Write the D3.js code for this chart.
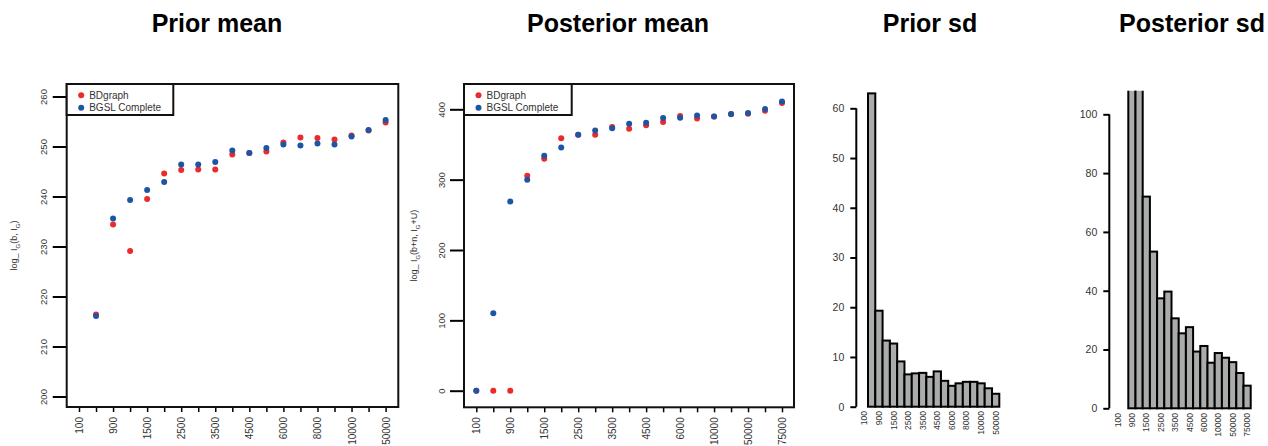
<!DOCTYPE html>
<html>
<head>
<meta charset="utf-8">
<script src="https://cdn.jsdelivr.net/npm/d3@7"></script>
<style>
  body { margin: 0; background: #fff; }
  svg { font-family: "Liberation Sans", Arial, sans-serif; }
</style>
</head>
<body>
<div id="chart"></div>
<script>
// tick labels - the original only labels every other tick
const priorLabels = ["100", "", "900", "", "1500", "", "2500", "", "3500", "", "4500", "", "6000", "", "8000", "", "10000", "", "50000"];
const postLabels = ["100", "", "900", "", "1500", "", "2500", "", "3500", "", "4500", "", "6000", "", "10000", "", "50000", "", "75000"];

const titles = ["Prior mean", "Posterior mean", "Prior sd", "Posterior sd"];
const seriesNames = ["BDgraph", "BGSL Complete"];
const seriesColors = ["#ec2a2c", "#1d55a4"];

// log normalizing constants
const priorMeanBD = [null, 216.4, 234.4, 229.1, 239.5, 244.6, 245.3, 245.4, 245.4, 248.4, 248.7, 249.0, 250.8, 251.8, 251.7, 251.4, 252.2, 253.2, 254.8];
const priorMeanBGSL = [null, 216.1, 235.6, 239.3, 241.3, 242.9, 246.4, 246.4, 246.9, 249.2, 248.7, 249.7, 250.4, 250.2, 250.6, 250.4, 252.0, 253.3, 255.3];
const postMeanBD = [0, 0, 0, 305.4, 329.6, 359.0, 363.7, 363.7, 374.7, 372.3, 377.5, 381.8, 390.3, 386.9, 389.8, 393.0, 393.5, 397.9, 408.8];
const postMeanBGSL = [0, 110, 268.8, 299.7, 333.9, 345.7, 363.7, 369.9, 373.2, 379.4, 380.8, 387.5, 388.0, 391.2, 389.8, 393.2, 394.6, 400.3, 411.1];

// standard deviations (histogram panels)
const priorSd = [0, 63.0, 19.3, 13.3, 12.7, 9.1, 6.5, 6.7, 6.8, 6.0, 7.1, 5.2, 4.2, 4.7, 5.0, 5.0, 4.7, 3.7, 2.6];
const postSd = [null, null, 130, 120, 72.0, 53.3, 37.4, 39.7, 30.6, 25.5, 27.6, 19.3, 21.2, 15.5, 18.8, 17.2, 15.7, 12.0, 7.7];

const W = 1268, H = 446;
const textColor = "#333";

const svg = d3.select("#chart").append("svg")
    .attr("width", W)
    .attr("height", H);

svg.append("rect").attr("width", W).attr("height", H).attr("fill", "#fff");

// panel titles
const titleX = [217, 618, 930, 1192];
svg.selectAll("text.title")
    .data(titles)
    .join("text")
    .attr("class", "title")
    .attr("x", (d, i) => titleX[i])
    .attr("y", 32)
    .attr("text-anchor", "middle")
    .style("font-size", "25px")
    .style("font-weight", "bold")
    .attr("fill", "#000")
    .text(d => d);

class ScatterPanel {
    constructor(config) {
        this.settings = config;
        this.draw();
    }

    draw() {
        const vis = this;
        const s = vis.settings;
        const g = svg.append("g");

        vis.x = d3.scalePoint().domain(d3.range(s.labels.length)).range(s.xRange);
        vis.y = d3.scaleLinear().domain(s.yDomain).range(s.yRange);

        // y axis (labels rotated like R's default)
        const yAxis = g.append("g")
            .attr("transform", `translate(${s.frame[0]},0)`)
            .call(d3.axisLeft(vis.y).tickValues(s.yTicks).tickSize(14).tickSizeOuter(0));
        yAxis.select(".domain").remove();
        yAxis.selectAll("line").attr("stroke", "#000").attr("stroke-width", 2);
        yAxis.selectAll("text")
            .attr("x", null).attr("dy", null)
            .attr("transform", "translate(-19.5,0) rotate(-90)")
            .attr("text-anchor", "middle")
            .attr("fill", textColor)
            .style("font-size", "9.5px")
            .style("font-family", "inherit");

        // x axis
        const xAxis = g.append("g")
            .attr("transform", `translate(0,${s.frame[3]})`)
            .call(d3.axisBottom(vis.x).tickSize(5).tickSizeOuter(0).tickFormat(i => s.labels[i]));
        xAxis.select(".domain").remove();
        xAxis.selectAll("line").attr("stroke", "#000").attr("stroke-width", 1.5);
        xAxis.selectAll("text")
            .attr("y", null).attr("dy", null)
            .attr("transform", "translate(3.5,10) rotate(-90)")
            .attr("text-anchor", "end")
            .attr("fill", textColor)
            .style("font-size", "10px")
            .style("font-family", "inherit");

        // frame
        g.append("rect")
            .attr("x", s.frame[0]).attr("y", s.frame[1])
            .attr("width", s.frame[2] - s.frame[0])
            .attr("height", s.frame[3] - s.frame[1])
            .attr("fill", "none")
            .attr("stroke", "#111")
            .attr("stroke-width", 2);

        // y axis title
        const yt = g.append("text")
            .attr("transform", `translate(${s.titleX},${(s.frame[1] + s.frame[3]) / 2}) rotate(-90)`)
            .attr("text-anchor", "middle")
            .attr("fill", textColor)
            .style("font-size", "9px");
        s.axisTitle.forEach(part => {
            const t = yt.append("tspan").text(part[0]);
            if (part[1]) t.attr("baseline-shift", "sub").style("font-size", "6px");
        });

        // points: red first, blue on top
        s.series.forEach((values, k) => {
            g.selectAll(null)
                .data(values.map((v, i) => ({ i: i, v: v })).filter(d => d.v !== null))
                .join("circle")
                .attr("cx", d => vis.x(d.i))
                .attr("cy", d => vis.y(d.v))
                .attr("r", 3)
                .attr("fill", seriesColors[k]);
        });

        // legend
        const lg = g.append("g");
        lg.append("rect")
            .attr("x", s.frame[0]).attr("y", s.frame[1])
            .attr("width", s.legendW).attr("height", 31)
            .attr("fill", "#fff")
            .attr("stroke", "#111")
            .attr("stroke-width", 2);
        seriesNames.forEach((name, k) => {
            const cy = s.frame[1] + 11.3 + k * 12.4;
            lg.append("circle")
                .attr("cx", s.frame[0] + 14.5).attr("cy", cy)
                .attr("r", 3).attr("fill", seriesColors[k]);
            lg.append("text")
                .attr("x", s.frame[0] + 22.5).attr("y", cy)
                .attr("dy", "0.35em")
                .attr("fill", textColor)
                .style("font-size", "10px")
                .text(name);
        });
    }
}

class BarPanel {
    constructor(config) {
        this.settings = config;
        this.draw();
    }

    draw() {
        const vis = this;
        const s = vis.settings;
        const g = svg.append("g");

        vis.x = d3.scaleBand().domain(d3.range(s.labels.length)).range(s.xRange).padding(0);
        vis.y = d3.scaleLinear().domain(s.yDomain).range(s.yRange);

        const clipId = "clip" + s.id;
        g.append("clipPath").attr("id", clipId)
            .append("rect")
            .attr("x", s.xRange[0] - 5).attr("y", s.clipTop)
            .attr("width", s.xRange[1] - s.xRange[0] + 10)
            .attr("height", H);

        g.append("g")
            .attr("clip-path", `url(#${clipId})`)
            .selectAll("rect")
            .data(s.values.map((v, i) => ({ i: i, v: v })).filter(d => d.v !== null))
            .join("rect")
            .attr("x", d => vis.x(d.i))
            .attr("y", d => vis.y(d.v))
            .attr("width", vis.x.bandwidth())
            .attr("height", d => vis.y(0) - vis.y(d.v))
            .attr("fill", "#aaacab")
            .attr("stroke", "#000")
            .attr("stroke-width", 2);

        // y axis
        const yAxis = g.append("g")
            .attr("transform", `translate(${s.axisX},0)`)
            .call(d3.axisLeft(vis.y).tickValues(s.yTicks).tickSize(6).tickPadding(6).tickSizeOuter(0));
        yAxis.select(".domain").remove();
        yAxis.append("line")
            .attr("y1", vis.y(s.yTicks[0]))
            .attr("y2", vis.y(s.yTicks[s.yTicks.length - 1]))
            .attr("stroke", "#000")
            .attr("stroke-width", 2);
        yAxis.selectAll(".tick line").attr("stroke", "#000").attr("stroke-width", 2);
        yAxis.selectAll("text")
            .attr("fill", textColor)
            .style("font-size", "10.5px")
            .style("font-family", "inherit");

        // category labels under the bars
        g.selectAll("text.cat")
            .data(s.labels.map((l, i) => ({ i: i, l: l })).filter(d => d.l !== ""))
            .join("text")
            .attr("class", "cat")
            .attr("transform", d => `translate(${vis.x(d.i) + vis.x.bandwidth() / 2 + 3},${s.labelY}) rotate(-90)`)
            .attr("text-anchor", "end")
            .attr("fill", textColor)
            .style("font-size", "8.5px")
            .text(d => d.l);
    }
}

new ScatterPanel({
    frame: [66.7, 84, 398.3, 407],
    xRange: [79, 385.6],
    yDomain: [200, 260],
    yRange: [396.5, 96.5],
    yTicks: [200, 210, 220, 230, 240, 250, 260],
    labels: priorLabels,
    series: [priorMeanBD, priorMeanBGSL],
    legendW: 106.6,
    titleX: 17,
    axisTitle: [["log_ I"], ["G", true], ["(b, I"], ["G", true], [")"]]
});

new ScatterPanel({
    frame: [464, 84, 794, 407.3],
    xRange: [476.3, 782],
    yDomain: [0, 400],
    yRange: [390.7, 109.3],
    yTicks: [0, 100, 200, 300, 400],
    labels: postLabels,
    series: [postMeanBD, postMeanBGSL],
    legendW: 107.7,
    titleX: 417,
    axisTitle: [["log_ I"], ["G", true], ["(b+n, I"], ["G", true], ["+U)"]]
});

new BarPanel({
    id: 3,
    xRange: [860.7, 999.3],
    yDomain: [0, 60],
    yRange: [406.7, 108.3],
    yTicks: [0, 10, 20, 30, 40, 50, 60],
    axisX: 856.3,
    clipTop: 0,
    labelY: 411,
    labels: priorLabels,
    values: priorSd
});

new BarPanel({
    id: 4,
    xRange: [1113.9, 1250.7],
    yDomain: [0, 100],
    yRange: [408.3, 114.3],
    yTicks: [0, 20, 40, 60, 80, 100],
    axisX: 1109.3,
    clipTop: 90.7,
    labelY: 413,
    labels: postLabels,
    values: postSd
});
</script>
</body>
</html>
